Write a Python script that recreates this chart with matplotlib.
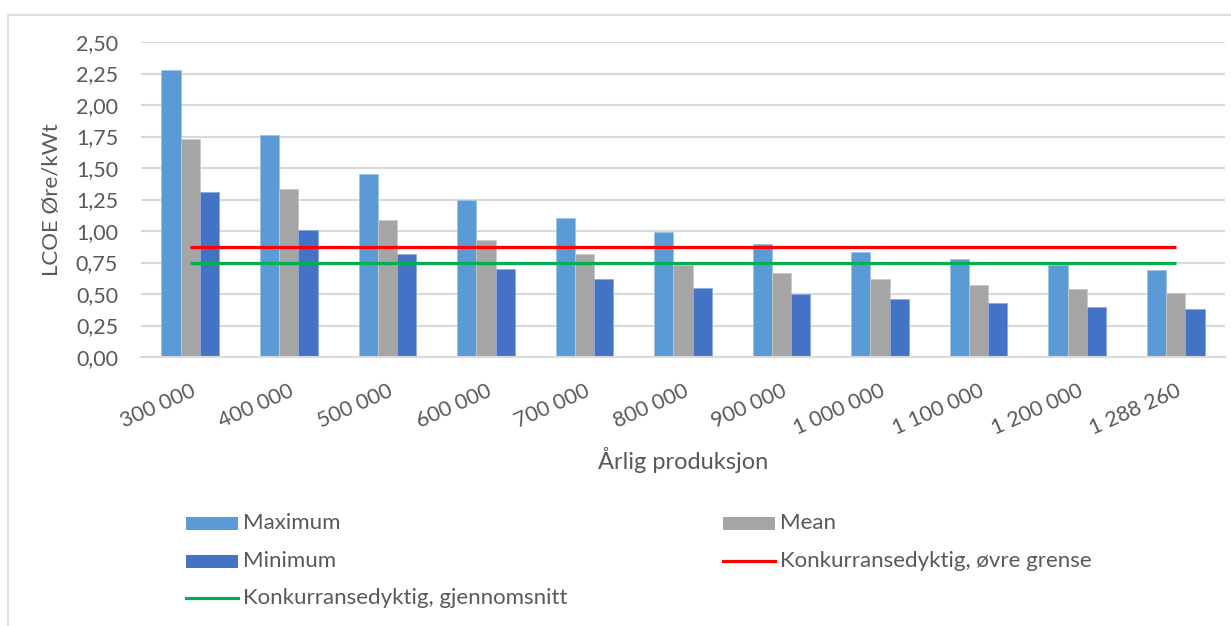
import matplotlib
matplotlib.use("Agg")
import matplotlib.pyplot as plt
import numpy as np
from matplotlib.patches import Rectangle
from matplotlib.lines import Line2D

# Annual production categories and LCOE values (øre/kWt)
categories = ["300 000", "400 000", "500 000", "600 000", "700 000", "800 000",
              "900 000", "1 000 000", "1 100 000", "1 200 000", "1 288 260"]
maximum = [2.28, 1.76, 1.45, 1.25, 1.10, 0.99, 0.90, 0.83, 0.78, 0.73, 0.69]
mean = [1.73, 1.33, 1.09, 0.93, 0.82, 0.73, 0.67, 0.62, 0.57, 0.54, 0.51]
minimum = [1.31, 1.01, 0.82, 0.70, 0.62, 0.55, 0.50, 0.46, 0.43, 0.40, 0.38]
upper_limit = 0.87
average_limit = 0.75

yticks = [0.0, 0.25, 0.5, 0.75, 1.0, 1.25, 1.5, 1.75, 2.0, 2.25, 2.5]

series_names = ["Maximum", "Mean", "Minimum",
                "Konkurransedyktig, øvre grense", "Konkurransedyktig, gjennomsnitt"]
c_max, c_mean, c_min = "#5B9BD5", "#A5A5A5", "#4472C4"
c_upper, c_avg = "#FF0000", "#00B050"

plt.rcParams['font.family'] = ['Lato', 'DejaVu Sans']
text_color = "#595959"
grid_color = "#D9D9D9"

W, H = 1231, 626
fig = plt.figure(figsize=(W / 100, H / 100), dpi=100)
fig.patch.set_facecolor("white")


def fx(px):
    return px / W


def fy(py):
    return 1 - py / H


# chart frame
fig.add_artist(Rectangle((fx(8), -0.05), 1.2, fy(15) + 0.05,
                         transform=fig.transFigure, fill=False,
                         edgecolor="#D9D9D9", lw=1.2))

ax = fig.add_axes([fx(141), fy(357), fx(1225 - 141), (357 - 42) / H])

x = np.arange(len(categories))
w = 0.195
ax.bar(x - w, maximum, w, color=c_max, edgecolor="#9CC3E6", lw=0.6, zorder=2)
ax.bar(x, mean, w, color=c_mean, edgecolor="#C9C9C9", lw=0.6, zorder=2)
ax.bar(x + w, minimum, w, color=c_min, edgecolor="#8FAADC", lw=0.6, zorder=2)

ax.plot(x, [upper_limit] * len(x), color=c_upper, lw=2.3, zorder=3,
        solid_capstyle="butt")
ax.plot(x, [average_limit] * len(x), color=c_avg, lw=2.3, zorder=3,
        solid_capstyle="butt")

ax.set_xlim(-0.5, len(categories) - 0.5)
ax.set_ylim(0, 2.5)
ax.set_yticks(yticks)
ax.set_yticklabels([f"{v:.2f}".replace(".", ",") for v in yticks])
ax.yaxis.grid(True, color=grid_color, lw=1.5, zorder=0)
ax.set_axisbelow(True)
for s in ["top", "right", "left"]:
    ax.spines[s].set_visible(False)
ax.spines["bottom"].set_color(grid_color)
ax.spines["bottom"].set_linewidth(1.5)
ax.tick_params(axis="both", length=0, colors=text_color, labelsize=15.5)
ax.tick_params(axis="y", pad=16.5)

ax.set_xticks(x)
ax.set_xticklabels(categories, rotation=24, ha="right", rotation_mode="anchor")
ax.tick_params(axis="x", pad=17)

ax.set_ylabel("LCOE Øre/kWt", fontsize=16, color=text_color)
ax.yaxis.set_label_coords((62 - 141) / 1084, 0.5)
ax.set_xlabel("Årlig produksjon", fontsize=17, color=text_color, va="top")
ax.xaxis.set_label_coords(0.5, (357 - 447) / 315)

# legend laid out in two columns below the plot
legend_items = [
    ("patch", c_max, series_names[0], 186, 523),
    ("patch", c_mean, series_names[1], 723, 523),
    ("patch", c_min, series_names[2], 186, 561),
    ("line", c_upper, series_names[3], 723, 561),
    ("line", c_avg, series_names[4], 186, 598),
]
handle_w, patch_h = 52, 13
for kind, color, label, hx, hy in legend_items:
    if kind == "patch":
        fig.add_artist(Rectangle((fx(hx), fy(hy + patch_h / 2)), fx(handle_w),
                                 patch_h / H, transform=fig.transFigure,
                                 facecolor=color, edgecolor="none"))
    else:
        fig.add_artist(Line2D([fx(hx), fx(hx + handle_w)], [fy(hy), fy(hy)],
                              transform=fig.transFigure, color=color, lw=2.3))
    fig.text(fx(hx + handle_w + 5), fy(hy), label, fontsize=16,
             color=text_color, va="center", ha="left")

fig.savefig("out.png", dpi=100, facecolor="white")
